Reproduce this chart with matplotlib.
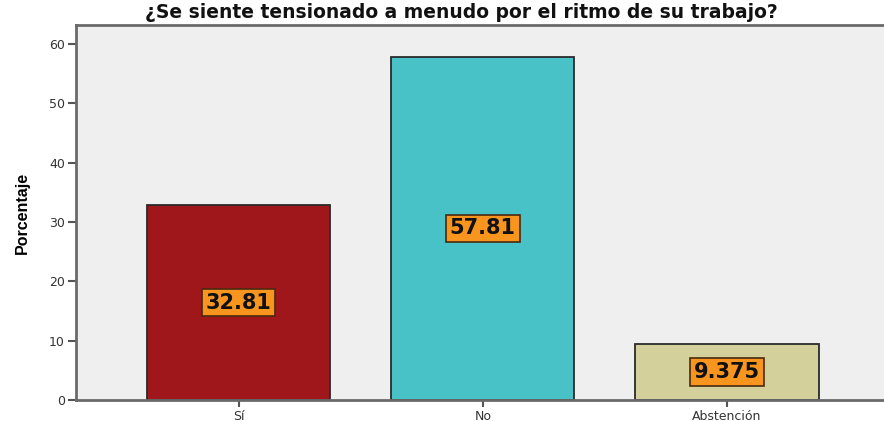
import matplotlib
matplotlib.use("Agg")
from matplotlib import pyplot as plt

TITLE = "¿Se siente tensionado a menudo por el ritmo de su trabajo?"
CATEGORIES = ["Sí", "No", "Abstención"]
VALUES = [32.81, 57.81, 9.375]
LABELS = ["32.81", "57.81", "9.375"]
BAR_COLORS = ["#A0171B", "#48C2C7", "#D4D09B"]
Y_TICKS = [0, 10, 20, 30, 40, 50, 60]

plt.rcParams['font.family'] = ['DejaVu Sans']

fig = plt.figure(figsize=(8.84, 4.21), dpi=100)
ax = fig.add_axes([76 / 884, 21 / 421, 808 / 884, 375 / 421])
ax.set_facecolor("#EFEFEF")

x = list(range(len(CATEGORIES)))
ax.bar(x, VALUES, width=0.75, color=BAR_COLORS, edgecolor="#2a2a2a", linewidth=1.3, zorder=2)

for xi, v, lab in zip(x, VALUES, LABELS):
    ax.text(xi, v / 2, lab, ha="center", va="center", fontsize=15, fontweight="bold",
            color="#111111", zorder=3,
            bbox=dict(boxstyle="square,pad=0.18", facecolor="#F7951E", edgecolor="#4a2a10", linewidth=1.2))

ax.set_xlim(-0.666, 2.643)
ax.set_ylim(0, 63.2)
ax.set_xticks(x)
ax.set_xticklabels(CATEGORIES)
ax.set_yticks(Y_TICKS)

for side in ["left", "bottom", "top"]:
    ax.spines[side].set_color("#6a6a6a")
    ax.spines[side].set_linewidth(2)
ax.spines["right"].set_visible(False)

ax.tick_params(axis="y", direction="out", length=6, width=1.5, color="#555555",
               labelsize=9, labelcolor="#333333", pad=2)
ax.tick_params(axis="x", direction="out", length=5, width=1.5, color="#555555",
               labelsize=9, labelcolor="#333333", pad=2)

ax.set_ylabel("Porcentaje", fontsize=11.5, fontweight="bold", family="Liberation Sans",
              fontstretch="condensed", labelpad=14)

fig.text(461 / 884, 1 - 12 / 421, TITLE, ha="center", va="center", fontsize=13.5,
         fontweight="bold", color="#111111")

fig.savefig("out.png", dpi=100)
